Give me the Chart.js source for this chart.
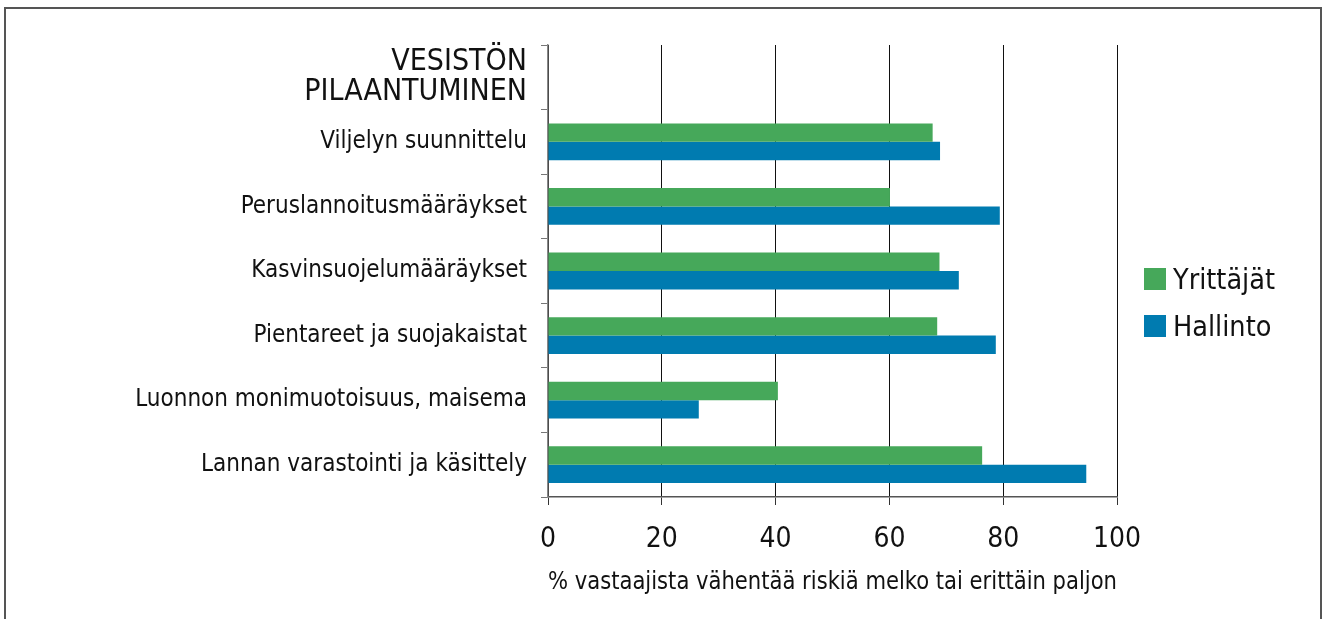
<!DOCTYPE html>
<html><head><meta charset="utf-8">
<script src="https://cdn.jsdelivr.net/npm/chart.js@4/dist/chart.umd.min.js"></script>
<style>
html,body{margin:0;padding:0;background:#fff;width:1327px;height:619px;overflow:hidden;}
#frame{position:absolute;left:4px;top:7px;width:1318px;height:620px;border:2px solid #555;box-sizing:border-box;}
#c{position:absolute;left:0;top:0;}
.sw{position:absolute;left:1144px;width:22px;height:22px;}
.lt{position:absolute;left:1173px;font-family:"DejaVu Sans Condensed","DejaVu Sans",sans-serif;font-size:28.5px;line-height:28px;color:#111;white-space:nowrap;}
</style></head>
<body>
<div id="frame"></div>
<canvas id="c" width="1327" height="619"></canvas>
<div class="sw" style="top:268px;background:#46a85a"></div>
<div class="lt" style="top:266px">Yrittäjät</div>
<div class="sw" style="top:315px;background:#007bb0"></div>
<div class="lt" style="top:313px">Hallinto</div>
<script>
const categories = [["VESISTÖN","PILAANTUMINEN"],"Viljelyn suunnittelu","Peruslannoitusmääräykset","Kasvinsuojelumääräykset","Pientareet ja suojakaistat","Luonnon monimuotoisuus, maisema","Lannan varastointi ja käsittely"];
const yrittajat = [null,67.6,60.1,68.8,68.4,40.4,76.3];
const hallinto = [null,68.9,79.4,72.2,78.7,26.5,94.6];
const seriesNames = ["Yrittäjät","Hallinto"];
const xTicks = [0,20,40,60,80,100];
const xTitle = "% vastaajista vähentää riskiä melko tai erittäin paljon";
const FONT = '"DejaVu Sans Condensed","DejaVu Sans",sans-serif';

new Chart(document.getElementById('c'), {
  type:'bar',
  data:{labels:categories, datasets:[
    {label:seriesNames[0], data:yrittajat, backgroundColor:'#46a85a', categoryPercentage:0.57, barPercentage:1.0},
    {label:seriesNames[1], data:hallinto, backgroundColor:'#007bb0', categoryPercentage:0.57, barPercentage:1.0}
  ]},
  options:{
    indexAxis:'y', responsive:false, animation:false,
    layout:{padding:{left:0,top:45,right:210,bottom:0}},
    plugins:{legend:{display:false}, tooltip:{enabled:false}},
    scales:{
      x:{min:0,max:100,
        afterBuildTicks:(s)=>{s.ticks = xTicks.map(v=>({value:v}));},
        afterFit:(s)=>{s.height=122;},
        grid:{color:'#111',lineWidth:1,drawTicks:true,tickLength:8,tickColor:'#333'},
        border:{display:true,color:'#555',width:1.5},
        ticks:{color:'#111',font:{family:FONT,size:28},padding:18},
        title:{display:true,text:xTitle,color:'#111',font:{family:FONT,size:24.5},padding:{top:0,bottom:22}}
      },
      y:{
        afterFit:(s)=>{s.width=548;},
        grid:{drawOnChartArea:false,drawTicks:true,tickLength:7,offset:true,color:'#777'},
        border:{display:true,color:'#888',width:1.5},
        ticks:{color:'#111',padding:14,
          font:(ctx)=> ctx.index===0 ? {family:FONT,size:30,lineHeight:0.98} : {family:FONT,size:24}}
      }
    }
  }
});
</script>
</body></html>
